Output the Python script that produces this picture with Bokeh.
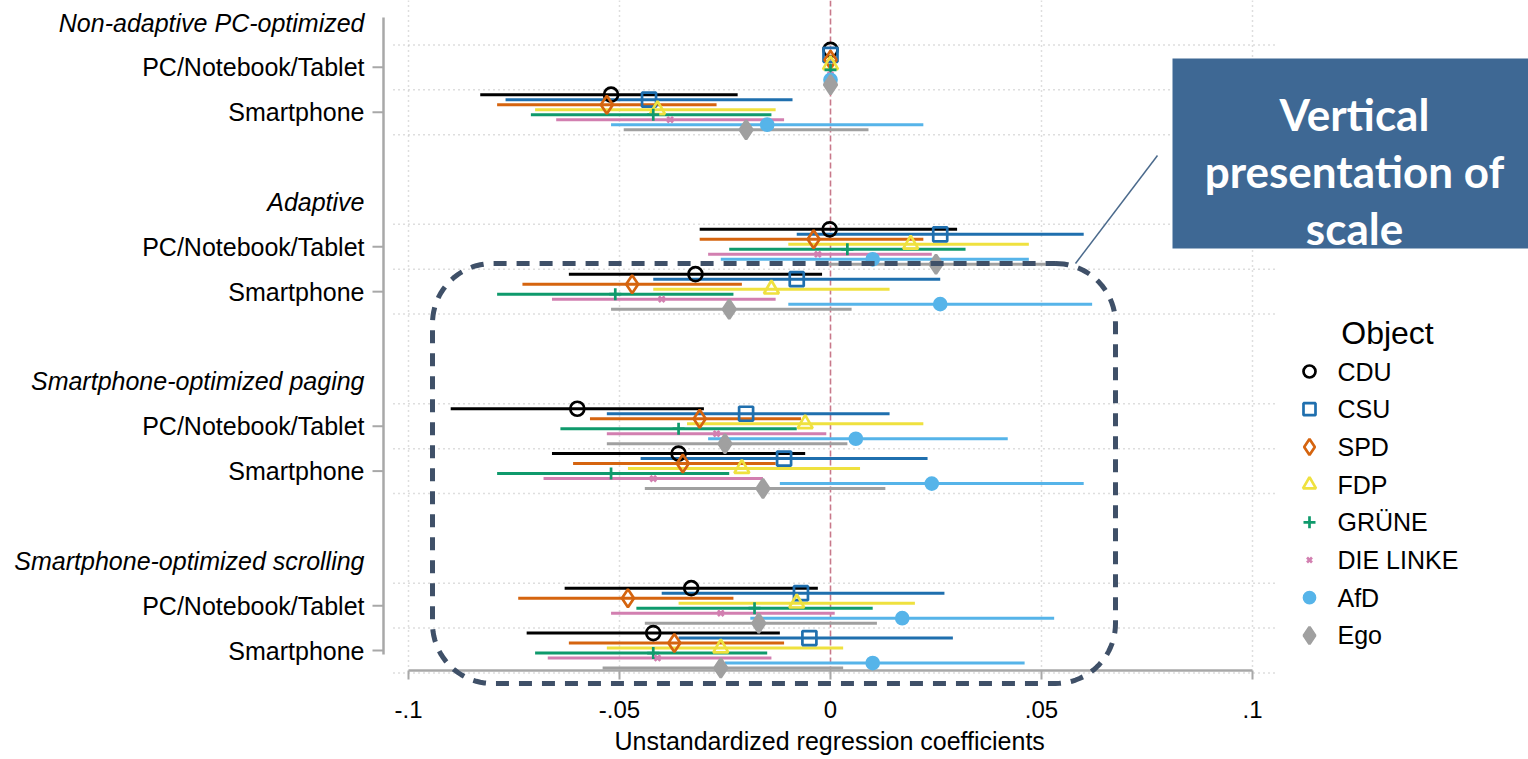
import numpy as np
from bokeh.plotting import figure
from bokeh.models import Range1d, FixedTicker, ColumnDataSource, Title
from bokeh.core.properties import value
from bokeh.embed import file_html
from bokeh.resources import INLINE

# ---------------- data ----------------
groups = ["Non-adaptive PC-optimized", "Adaptive",
          "Smartphone-optimized paging", "Smartphone-optimized scrolling"]
devices = ["PC/Notebook/Tablet", "Smartphone"]
parties = ["CDU", "CSU", "SPD", "FDP", "GRÜNE", "DIE LINKE", "AfD", "Ego"]
x_ticks = [-0.1, -0.05, 0.0, 0.05, 0.1]
x_tick_labels = ["-.1", "-.05", "0", ".05", ".1"]
x_title = "Unstandardized regression coefficients"
legend_title = "Object"
note_lines = ["Vertical", "presentation of", "scale"]

# rows: NA-PC, NA-SP, AD-PC, AD-SP, PG-PC, PG-SP, SC-PC, SC-SP
cdu_est = [0, -0.052, -0.0002, -0.032, -0.060, -0.036, -0.033, -0.042]
cdu_lo = [0, -0.083, -0.031, -0.062, -0.090, -0.066, -0.063, -0.072]
cdu_hi = [0, -0.022, 0.030, -0.002, -0.030, -0.006, -0.003, -0.012]
csu_est = [0, -0.043, 0.026, -0.008, -0.020, -0.011, -0.007, -0.005]
csu_lo = [0, -0.077, -0.008, -0.042, -0.053, -0.045, -0.040, -0.036]
csu_hi = [0, -0.009, 0.060, 0.026, 0.014, 0.023, 0.027, 0.029]
spd_est = [0, -0.053, -0.004, -0.047, -0.031, -0.035, -0.048, -0.037]
spd_lo = [0, -0.079, -0.031, -0.073, -0.057, -0.061, -0.074, -0.062]
spd_hi = [0, -0.027, 0.022, -0.021, -0.007, -0.013, -0.023, -0.011]
fdp_est = [0, -0.041, 0.019, -0.014, -0.006, -0.021, -0.008, -0.026]
fdp_lo = [0, -0.070, -0.010, -0.042, -0.034, -0.048, -0.036, -0.053]
fdp_hi = [0, -0.013, 0.047, 0.014, 0.022, 0.007, 0.020, 0.003]
gruene_est = [0, -0.042, 0.004, -0.051, -0.036, -0.052, -0.018, -0.042]
gruene_lo = [0, -0.071, -0.024, -0.079, -0.064, -0.079, -0.046, -0.070]
gruene_hi = [0, -0.014, 0.032, -0.023, -0.008, -0.024, 0.010, -0.015]
linke_est = [0, -0.038, -0.003, -0.040, -0.027, -0.042, -0.026, -0.041]
linke_lo = [0, -0.065, -0.029, -0.066, -0.053, -0.068, -0.052, -0.067]
linke_hi = [0, -0.011, 0.024, -0.013, -0.001, -0.016, 0.001, -0.014]
afd_est = [0, -0.015, 0.010, 0.026, 0.006, 0.024, 0.017, 0.010]
afd_lo = [0, -0.052, -0.026, -0.010, -0.029, -0.012, -0.019, -0.025]
afd_hi = [0, 0.022, 0.047, 0.062, 0.042, 0.060, 0.053, 0.046]
ego_est = [0, -0.020, 0.025, -0.024, -0.025, -0.016, -0.017, -0.026]
ego_lo = [0, -0.049, -0.002, -0.052, -0.053, -0.044, -0.044, -0.054]
ego_hi = [0, 0.009, 0.051, 0.005, 0.004, 0.013, 0.011, 0.003]

estimates = [cdu_est, csu_est, spd_est, fdp_est, gruene_est, linke_est, afd_est, ego_est]
lows = [cdu_lo, csu_lo, spd_lo, fdp_lo, gruene_lo, linke_lo, afd_lo, ego_lo]
highs = [cdu_hi, csu_hi, spd_hi, fdp_hi, gruene_hi, linke_hi, afd_hi, ego_hi]

# ---------------- style ----------------
colors = ["#000000", "#1f6fae", "#d5640f", "#efe13f", "#0f9a6c", "#d27fb0", "#56b4e9", "#a0a0a0"]
markers = ["circle", "square", "diamond", "triangle", "cross", "x", "circle", "diamond"]
msizes = [14, 14, 18, 15, 12, 8, 12, 19]
filled = [False, False, False, False, False, False, True, True]
lg_sizes = [12, 12, 16, 13, 12, 7, 11, 17]

FONT = "Liberation Sans"
W, H = 1528, 759
X0PX, XSCALE = 830.0, 4220.0
Y0PX, YSTEP = 22.0, 44.86
FRAME_BOTTOM = 690


def px2x(px):
    return (px - X0PX) / XSCALE


def py2y(py):
    return (py - Y0PX) / YSTEP


p = figure(width=W, height=H, output_backend="svg", toolbar_location=None,
           x_range=Range1d(px2x(0), px2x(W)),
           y_range=Range1d(py2y(FRAME_BOTTOM), py2y(0)),
           y_axis_location=None,
           min_border_left=0, min_border_right=0, min_border_top=0,
           min_border_bottom=H - FRAME_BOTTOM)
p.outline_line_color = None
p.grid.visible = False
p.background_fill_color = "white"

# x axis (labels only; line and ticks drawn in the frame)
ax = p.xaxis[0]
ax.ticker = FixedTicker(ticks=x_ticks)
ax.major_label_overrides = {t: l for t, l in zip(x_ticks, x_tick_labels)}
ax.axis_line_color = None
ax.major_tick_line_color = None
ax.minor_tick_line_color = None
ax.major_tick_out = 0
ax.major_tick_in = 0
ax.major_label_standoff = 10
ax.major_label_text_font = FONT
ax.major_label_text_font_size = "24px"
ax.major_label_text_color = "black"

# x axis title centred on the data region (0 of the scale)
xt = Title(text=x_title, align="left", offset=614, standoff=8,
           text_font=FONT, text_font_size="25px", text_font_style="normal",
           text_color="black")
p.add_layout(xt, "below")

# row geometry
row_slots = []
for g in range(len(groups)):
    row_slots += [4 * g + 1, 4 * g + 2]
row_slots = np.array(row_slots, dtype=float)
step = 0.1115
offsets = [(i - 3.5) * step for i in range(len(parties))]

# gridlines
grid_x = [t for t in x_ticks if t != 0]
p.segment(x0=grid_x, x1=grid_x, y0=py2y(0), y1=py2y(670),
          line_color="#bdbdbd", line_width=1.5, line_dash="1 4")
h_lines = []
for g in range(len(groups)):
    h_lines += [4 * g + 0.5, 4 * g + 1.5, 4 * g + 2.5]
p.segment(x0=px2x(393), x1=px2x(1277), y0=h_lines, y1=h_lines,
          line_color="#bdbdbd", line_width=1.5, line_dash="1 4")
# zero line
p.segment(x0=[0], x1=[0], y0=py2y(0), y1=py2y(670),
          line_color="#c8788a", line_width=1.6, line_dash="6 3")

# axis lines
p.segment(x0=px2x(383), x1=px2x(383), y0=py2y(17), y1=py2y(654),
          line_color="#a8a8a8", line_width=2.5)
p.segment(x0=px2x(372), x1=px2x(383), y0=row_slots, y1=row_slots,
          line_color="#a8a8a8", line_width=2)
p.segment(x0=x_ticks[0], x1=x_ticks[-1], y0=py2y(670), y1=py2y(670),
          line_color="#a8a8a8", line_width=2.5)
p.segment(x0=x_ticks, x1=x_ticks, y0=py2y(670), y1=py2y(679),
          line_color="#a8a8a8", line_width=2)

# category labels
dev_labels = devices * len(groups)
p.text(x=px2x(364), y=row_slots, text=dev_labels, text_align="right",
       text_baseline="middle", text_font=value(FONT), text_font_size="25px",
       text_color="black")
head_slots = [4 * g for g in range(len(groups))]
p.text(x=px2x(364), y=head_slots, text=groups, text_align="right",
       text_baseline="middle", text_font=value(FONT), text_font_size="25px",
       text_font_style="italic", text_color="black")

# confidence intervals and point estimates
sources = []
for i in range(len(parties)):
    src = ColumnDataSource(dict(y=row_slots + offsets[i], est=estimates[i],
                                lo=lows[i], hi=highs[i]))
    sources.append(src)
    p.segment(x0="lo", x1="hi", y0="y", y1="y", source=src,
              line_color=colors[i], line_width=3)
for i in range(len(parties)):
    p.scatter(x="est", y="y", source=sources[i], marker=markers[i],
              size=msizes[i], line_color=colors[i], line_width=2.7,
              fill_color=colors[i] if filled[i] else None)

# legend (manual)
lg_y = [py2y(371 + 37.7 * i) for i in range(len(parties))]
for i in range(len(parties)):
    p.scatter(x=[px2x(1309)], y=[lg_y[i]], marker=markers[i], size=lg_sizes[i],
              line_color=colors[i], line_width=2.7,
              fill_color=colors[i] if filled[i] else None)
p.text(x=px2x(1337), y=lg_y, text=parties, text_align="left",
       text_baseline="middle", text_font=value(FONT), text_font_size="25px",
       text_color="black")
p.text(x=[px2x(1387)], y=[py2y(332)], text=[legend_title], text_align="center",
       text_baseline="middle", text_font=value(FONT), text_font_size="32px",
       text_color="black")

# annotation box
p.quad(left=px2x(1172), right=px2x(1528), top=py2y(58), bottom=py2y(248),
       fill_color="#3e6894", line_color=None)
p.text(x=px2x(1354), y=[py2y(113), py2y(170), py2y(227)], text=note_lines,
       text_align="center", text_baseline="alphabetic", text_font=value("Lato"),
       text_font_size="44px", text_font_style="bold", text_color="white")
p.segment(x0=px2x(1157), y0=py2y(155), x1=px2x(1075), y1=py2y(263),
          line_color="#4b6a8c", line_width=1.5)


def rounded_rect(l, t, r, b, rad, n=24):
    pts = []
    corners = [(r - rad, t + rad, -90, 0), (r - rad, b - rad, 0, 90),
               (l + rad, b - rad, 90, 180), (l + rad, t + rad, 180, 270)]
    for cx, cy, a0, a1 in corners:
        for a in np.linspace(np.radians(a0), np.radians(a1), n):
            pts.append((cx + rad * np.cos(a), cy + rad * np.sin(a)))
    pts.append(pts[0])
    xs = [px2x(q[0]) for q in pts]
    ys = [py2y(q[1]) for q in pts]
    return xs, ys


bx, by = rounded_rect(432, 263, 1115, 683, 60)
p.line(bx, by, line_color="#3f5068", line_width=5, line_dash="13 10")

open("out.html", "w").write(file_html(p, INLINE))
